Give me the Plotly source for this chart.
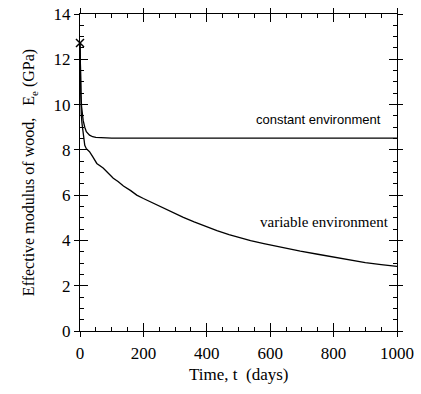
import plotly.graph_objects as go

# Data
t_const = [0, 1, 2, 3, 5, 7, 10, 15, 20, 30, 40, 50, 70, 100, 200, 400, 600, 800, 1000]
E_const = [12.7, 11.6, 10.9, 10.4, 9.9, 9.6, 9.3, 9.0, 8.8, 8.65, 8.58, 8.55, 8.53, 8.52, 8.52, 8.52, 8.52, 8.52, 8.52]

t_var = [0, 1, 2, 4, 6, 10, 15, 20, 30, 40, 53, 73, 90, 105, 120, 137, 160, 179, 200, 221,
         250, 280, 300, 326, 360, 400, 432, 470, 500, 538, 580, 620, 660, 695, 750, 800, 850, 900, 950, 1000]
E_var = [12.7, 11.3, 10.5, 9.6, 9.2, 8.6, 8.2, 8.05, 7.92, 7.7, 7.4, 7.2, 6.95, 6.75, 6.6, 6.4, 6.2, 6.0, 5.85, 5.71,
         5.5, 5.32, 5.19, 5.02, 4.82, 4.6, 4.43, 4.26, 4.13, 3.99, 3.86, 3.74, 3.63, 3.53, 3.39, 3.26, 3.13, 3.02, 2.93, 2.85]

marker_t = [0]
marker_E = [12.72]

x_ticks = [0, 200, 400, 600, 800, 1000]
y_ticks = [0, 2, 4, 6, 8, 10, 12, 14]

x_title = "Time, t  (days)"
y_title = "Effective modulus of wood,   E<sub>e</sub> (GPa)"

font_serif = "Liberation Serif"

fig = go.Figure()
fig.add_trace(go.Scatter(x=t_const, y=E_const, mode="lines", line=dict(color="black", width=1.3), showlegend=False))
fig.add_trace(go.Scatter(x=t_var, y=E_var, mode="lines", line=dict(color="black", width=1.3), showlegend=False))
fig.add_trace(go.Scatter(x=marker_t, y=marker_E, mode="markers",
                         marker=dict(symbol="x-thin", size=8, line=dict(color="black", width=1.5)),
                         showlegend=False, cliponaxis=False))

axis_common = dict(showgrid=False, zeroline=False, showline=True, linecolor="black", linewidth=1.3,
                   mirror="allticks", ticks="inside", ticklen=8, tickwidth=1, tickcolor="black",
                   automargin=False,
                   tickfont=dict(family=font_serif, size=17, color="black"))

fig.update_layout(
    width=421, height=394,
    margin=dict(l=80, r=24, t=14, b=63),
    paper_bgcolor="white", plot_bgcolor="white",
    xaxis=dict(range=[0, 1000], tickvals=x_ticks, ticklabelstandoff=6,
               minor=dict(dtick=50, ticks="inside", ticklen=4, tickcolor="black", tickwidth=1),
               **axis_common),
    yaxis=dict(range=[0, 14], tickvals=y_ticks, ticklabelstandoff=5,
               minor=dict(dtick=0.5, ticks="inside", ticklen=4, tickcolor="black", tickwidth=1),
               title=dict(text=y_title, font=dict(family=font_serif, size=16, color="black"), standoff=14),
               **axis_common),
    xaxis2=dict(overlaying="x", matches="x", range=[0, 1000], tickvals=x_ticks, showticklabels=False,
                showgrid=False, zeroline=False, showline=False, mirror="allticks", automargin=False,
                ticks="outside", ticklen=5, tickcolor="black", tickwidth=1),
    yaxis2=dict(overlaying="y", matches="y", range=[0, 14], tickvals=y_ticks, showticklabels=False,
                showgrid=False, zeroline=False, showline=False, mirror="allticks", automargin=False,
                ticks="outside", ticklen=5, tickcolor="black", tickwidth=1),
    annotations=[
        dict(x=0.5, y=0, xref="paper", yref="paper", yanchor="middle", yshift=-43,
             text=x_title, showarrow=False,
             font=dict(family=font_serif, size=17, color="black")),
        dict(x=751, y=9.32, xref="x", yref="y", text="constant environment", showarrow=False,
             font=dict(family="Liberation Sans", size=13, color="black")),
        dict(x=771, y=4.8, xref="x", yref="y", text="variable environment", showarrow=False,
             font=dict(family="Liberation Serif, serif", size=15, color="black")),
    ],
)
# dummy trace to activate overlay axes
fig.add_trace(go.Scatter(x=[None], y=[None], xaxis="x2", yaxis="y2", showlegend=False, hoverinfo="skip"))

fig.write_html("out.html")
